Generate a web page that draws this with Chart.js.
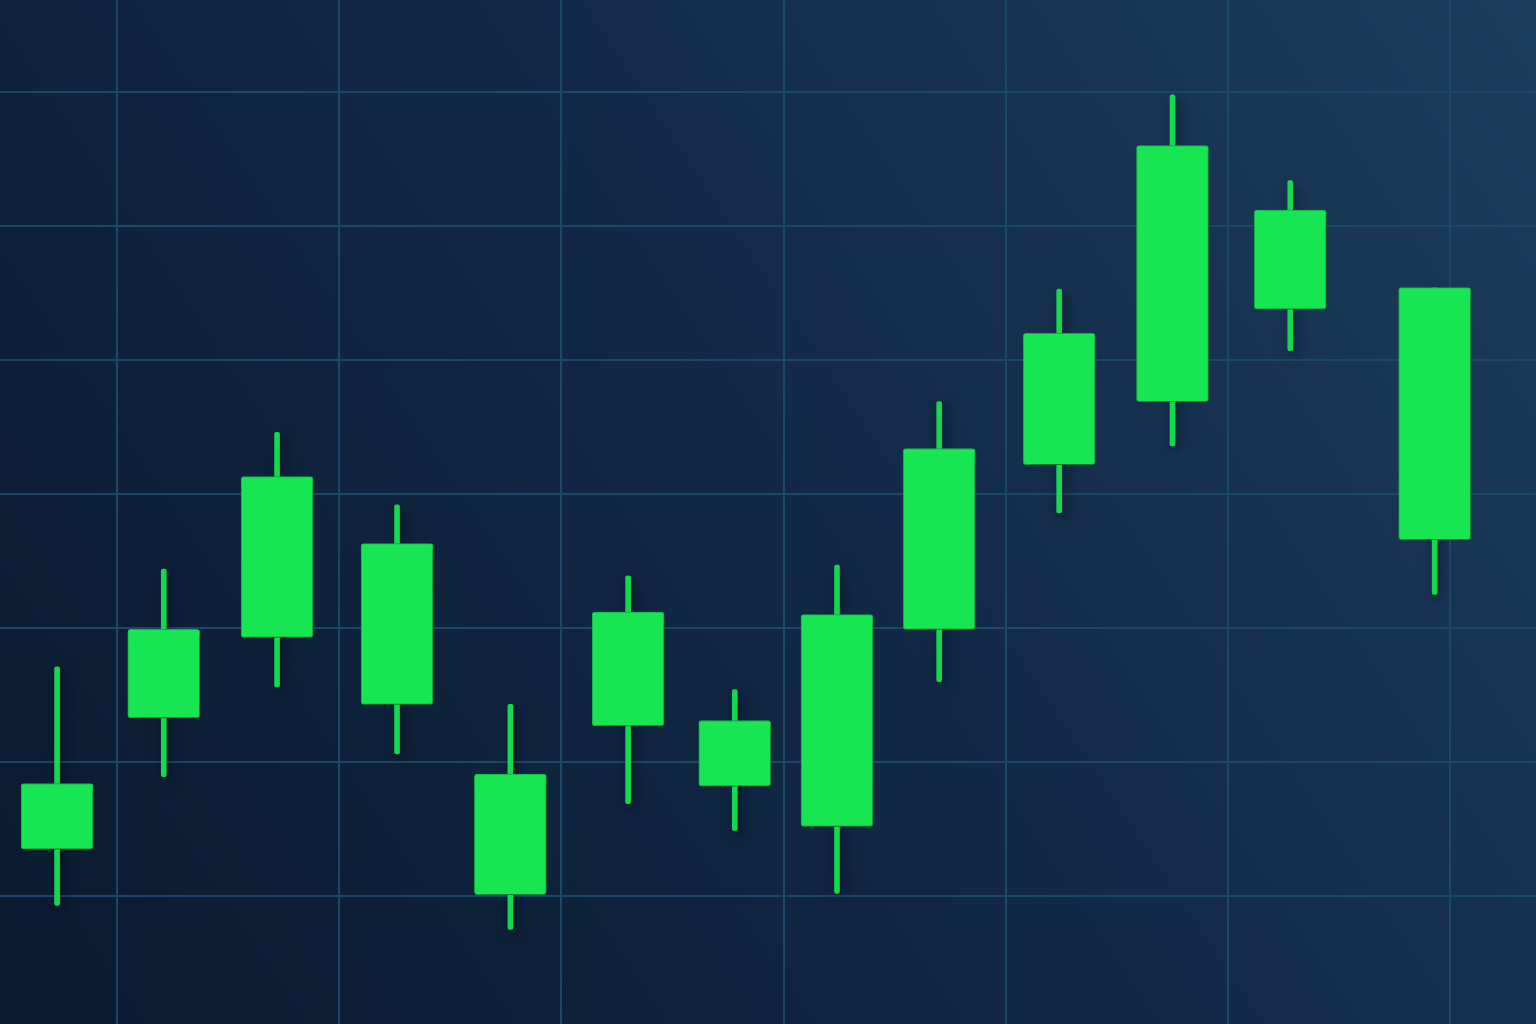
<!DOCTYPE html>
<html>
<head>
<meta charset="utf-8">
<script src="https://cdn.jsdelivr.net/npm/chart.js@4/dist/chart.umd.min.js"></script>
<style>
  html, body { margin: 0; padding: 0; background: #0f2540; }
  #wrap { width: 1536px; height: 1024px; }
</style>
</head>
<body>
<div id="wrap"><canvas id="mycanvas" width="1536" height="1024"></canvas></div>
<script>
// candle positions (time units) and OHLC-style values
var times  = [7.3, 12.1, 17.2, 22.6, 27.7, 33.0, 37.8, 42.4, 47.0, 52.4, 57.5, 62.8, 69.3];
var highs  = [27.1, 34.4, 44.6, 39.2, 24.3, 33.9, 25.4, 34.7, 46.9, 55.3, 69.8, 63.4, 55.4];
var tops   = [18.4, 29.9, 41.3, 36.3, 19.1, 31.2, 23.1, 31.0, 43.4, 52.0, 66.0, 61.2, 55.4];
var bottoms= [13.5, 23.3, 29.3, 24.3, 10.1, 22.7, 18.2, 15.2, 29.9, 42.2, 46.9, 53.8, 36.6];
var lows   = [9.3, 18.9, 25.6, 20.6, 7.5, 16.9, 14.9, 10.2, 26.0, 38.6, 43.6, 50.7, 32.5];

var xTicks = [10, 20, 30, 40, 50, 60, 70];
var yTicks = [10, 20, 30, 40, 50, 60, 70];

var bodyData = [];
var wickData = [];
for (var i in times) {
  bodyData.push({ x: times[i], y: [bottoms[i], tops[i]] });
  wickData.push({ x: times[i], y: [lows[i], highs[i]] });
}

var bgPlugin = {
  id: 'bg',
  beforeDraw: function (chart) {
    var c = chart.ctx;
    var g = c.createLinearGradient(0, chart.height, chart.width, 0);
    g.addColorStop(0, '#0b1a2f');
    g.addColorStop(0.5, '#112845');
    g.addColorStop(1, '#1d3d5c');
    c.save();
    c.fillStyle = g;
    c.fillRect(0, 0, chart.width, chart.height);
    c.restore();
  },
  beforeDatasetsDraw: function (chart) {
    var c = chart.ctx;
    c.save();
    c.shadowColor = 'rgba(0, 8, 20, 0.55)';
    c.shadowBlur = 12;
    c.shadowOffsetX = 3;
    c.shadowOffsetY = 4;
  },
  afterDatasetsDraw: function (chart) {
    chart.ctx.restore();
  }
};

var ctx = document.getElementById('mycanvas');
var candleChart = new Chart(ctx, {
  type: 'bar',
  data: {
    datasets: [{
      label: 'Body',
      data: bodyData,
      backgroundColor: '#18e552',
      borderColor: '#12c847',
      borderWidth: 1,
      borderRadius: 3,
      borderSkipped: false,
      barThickness: 72,
      grouped: false,
      order: 0
    }, {
      label: 'Wick',
      data: wickData,
      backgroundColor: '#15d94d',
      borderWidth: 0,
      borderRadius: 2,
      borderSkipped: false,
      barThickness: 5,
      grouped: false,
      order: 1
    }]
  },
  options: {
    responsive: false,
    animation: false,
    layout: { padding: 0 },
    plugins: { legend: { display: false }, tooltip: { enabled: false } },
    scales: {
      x: {
        type: 'linear',
        min: 4.73,
        max: 73.86,
        offset: false,
        afterBuildTicks: function (scale) {
          scale.ticks = xTicks.map(function (v) { return { value: v }; });
        },
        ticks: { display: false },
        border: { display: false },
        grid: { color: '#1c4868', lineWidth: 2, drawTicks: false, offset: false }
      },
      y: {
        type: 'linear',
        min: 0.45,
        max: 76.87,
        afterBuildTicks: function (scale) {
          scale.ticks = yTicks.map(function (v) { return { value: v }; });
        },
        ticks: { display: false },
        border: { display: false },
        grid: { color: '#1c4868', lineWidth: 2, drawTicks: false }
      }
    }
  },
  plugins: [bgPlugin]
});
</script>
</body>
</html>
